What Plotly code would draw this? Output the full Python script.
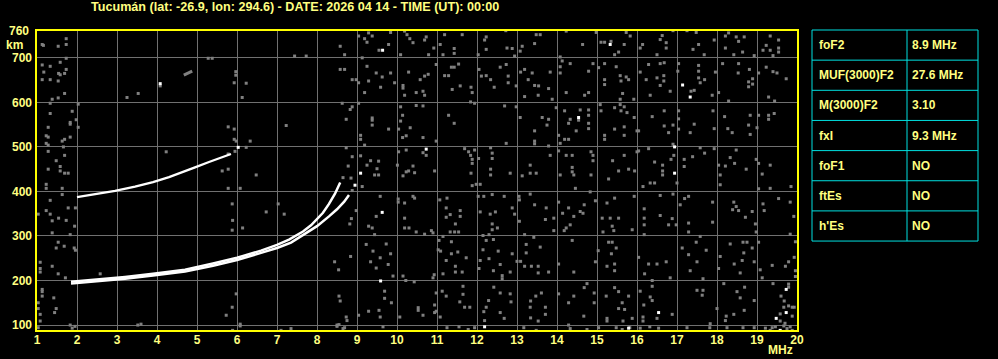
import plotly.graph_objects as go

# ---------------- data ----------------
title_text = "Tucumán (lat: -26.9, lon: 294.6) - DATE: 2026 04 14 - TIME (UT): 00:00"
x_ticks = list(range(1, 21))
y_ticks = [100, 200, 300, 400, 500, 600, 700]

# F2 trace, ordinary branch (MHz, km)
o_freq = [1.85, 2.4, 3.2, 3.9, 4.7, 5.4, 6.0, 6.6, 7.0, 7.3, 7.65, 7.85, 8.0, 8.15, 8.3, 8.45, 8.58]
o_height = [197, 201, 208, 215, 224, 238, 251, 267, 280, 292, 310, 324, 337, 352, 372, 395, 420]
# F2 trace, extraordinary branch
x_freq = [1.85, 2.4, 3.2, 3.9, 4.7, 5.4, 6.0, 6.6, 7.0, 7.35, 7.65, 8.0, 8.3, 8.5, 8.68, 8.8]
x_height = [193, 197, 204, 211, 220, 233, 246, 262, 273, 285, 302, 322, 344, 360, 377, 392]
# second-hop F2 trace
hop2_freq = [2.0, 2.45, 2.95, 3.45, 3.9, 4.3, 4.65, 4.95, 5.3, 5.6, 5.85]
hop2_height = [387, 393, 401, 411, 421, 432, 443, 454, 466, 475, 484]
# short faint echo
dash_freq = [4.67, 4.88]
dash_height = [661, 670]

noise_gray = [
    (1.13, 730), (1.16, 728), (1.53, 726), (1.73, 743), (1.73, 730), (1.73, 699), (1.13, 684), (1.33, 681),
    (1.17, 668), (1.58, 690), (1.54, 665), (1.58, 662), (1.69, 665), (1.73, 674), (1.13, 651), (1.33, 651),
    (1.53, 648), (1.69, 620), (1.53, 610), (1.38, 607), (1.33, 598), (2.03, 596), (1.33, 575), (1.88, 580),
    (1.98, 561), (1.83, 555), (1.83, 551), (1.28, 544), (2.03, 544), (1.23, 525), (1.28, 522), (1.83, 522),
    (1.69, 517), (1.63, 513), (1.23, 508), (1.28, 504), (1.66, 500), (1.28, 490), (1.48, 469), (1.69, 481),
    (1.58, 456), (1.28, 450), (1.58, 446), (1.69, 441), (1.78, 441), (3.53, 620), (3.25, 611), (4.23, 489),
    (5.28, 699), (5.38, 699), (5.97, 669), (5.97, 661), (5.93, 644), (6.23, 643), (6.13, 611), (5.78, 545),
    (5.93, 540), (5.93, 517), (5.98, 513), (6.33, 513), (6.23, 499), (5.78, 484), (5.78, 450), (5.63, 446),
    (6.48, 437), (7.23, 548), (4.08, 637), (8.88, 402), (8.85, 430), (5.95, 490),
    (1.23, 416), (1.23, 407), (1.63, 407), (1.63, 393), (1.33, 380), (1.23, 357), (1.33, 349), (1.78, 363),
    (1.03, 349), (1.38, 334), (1.54, 340), (1.73, 335), (1.94, 322), (1.38, 307), (1.83, 303), (1.96, 363),
    (1.53, 286), (1.68, 277), (1.48, 273), (1.93, 273), (1.96, 268), (1.08, 241), (1.08, 227), (1.08, 219),
    (1.38, 232), (1.53, 215), (1.71, 206), (2.58, 215), (1.13, 180), (1.13, 175), (1.13, 165), (1.03, 150),
    (1.03, 137), (1.42, 161), (1.48, 137), (1.44, 128), (1.08, 124), (1.08, 109), (1.03, 94), (1.83, 100),
    (1.88, 93), (1.95, 97), (3.52, 100), (3.6, 102), (5.78, 407), (6.08, 407), (5.88, 372), (5.89, 335),
    (5.88, 313), (6.14, 318), (6.73, 354), (7.03, 372), (7.18, 349), (5.98, 170), (5.88, 140), (5.73, 122),
    (6.08, 102), (6.08, 98), (5.89, 88), (7.1, 88), (7.35, 92), (8.5, 100), (8.5, 97), (8.75, 110), (8.65, 92),
    (7.44, 704), (7.73, 704), (8.58, 726), (8.69, 707), (9.04, 749), (9.19, 743), (9.25, 735), (9.29, 756),
    (9.38, 749), (9.55, 717), (9.79, 730), (9.84, 757), (9.13, 700), (10.19, 760), (10.25, 752), (10.32, 743),
    (10.4, 734), (10.73, 747), (10.69, 740), (10.92, 722), (10.79, 707), (10.09, 707), (11.08, 730), (11.19, 752),
    (11.43, 721), (11.43, 710), (11.15, 707), (11.63, 752), (12.03, 707), (12.23, 747), (12.19, 740), (12.23, 719),
    (12.72, 761), (12.75, 722), (12.88, 721), (12.94, 704), (13.08, 715), (13.13, 726), (13.44, 732), (13.48, 752),
    (13.58, 752),
    (8.58, 674), (8.69, 674), (8.88, 651), (8.98, 651), (9.04, 644), (9.19, 622), (9.25, 681), (9.29, 648),
    (9.48, 666), (9.63, 657), (9.59, 634), (9.84, 666), (9.94, 644), (10.15, 638), (10.15, 632), (10.29, 668),
    (10.19, 616), (10.48, 622), (10.58, 651), (10.65, 625), (10.69, 659), (10.78, 663), (10.69, 616), (10.98, 685),
    (11.19, 660), (11.29, 660), (11.36, 679), (11.43, 679), (11.54, 686), (11.38, 629), (11.58, 637), (11.85, 634),
    (11.88, 622), (12.05, 674), (12.11, 659), (12.23, 660), (12.34, 651), (12.43, 634), (12.58, 679), (12.73, 685),
    (12.78, 659), (12.78, 644), (12.98, 637), (13.09, 668), (13.19, 674), (13.28, 651), (13.38, 666), (13.44, 638),
    (13.54, 637), (13.19, 613), (13.53, 616),
    (8.63, 598), (8.83, 584), (8.88, 590), (8.73, 562), (9.04, 598), (9.38, 565), (9.38, 560), (9.38, 549),
    (9.79, 540), (9.09, 526), (9.09, 517), (9.19, 504), (10.09, 590), (10.14, 571), (10.09, 558), (10.23, 525),
    (10.33, 543), (10.14, 521), (10.04, 540), (10.48, 593), (10.65, 592), (10.65, 521), (10.98, 513), (11.29, 571),
    (11.43, 553), (11.84, 601), (11.94, 598), (12.69, 592), (12.98, 590), (13.08, 566), (13.44, 536), (13.44, 513),
    (13.44, 507), (13.63, 566), (12.73, 508),
    (8.73, 498), (8.88, 478), (8.78, 457), (8.65, 431), (9.09, 480), (9.34, 469), (9.25, 459), (9.5, 451),
    (9.54, 468), (9.44, 437), (9.54, 437), (10.04, 489), (10.01, 459), (10.23, 493), (10.15, 435), (10.23, 444),
    (10.29, 446), (10.4, 457), (10.44, 442), (10.65, 487), (10.73, 481), (10.94, 446), (11.69, 496), (11.79, 489),
    (11.84, 481), (11.94, 493), (11.88, 472), (11.88, 463), (11.85, 441), (12.04, 474), (12.34, 498), (12.38, 486),
    (12.38, 474), (12.34, 450), (12.34, 437), (12.83, 441), (13.13, 435), (13.33, 459), (13.33, 441), (13.48, 441),
    (14.23, 760), (14.64, 730), (14.98, 757), (15.1, 735), (15.19, 735), (15.35, 737), (15.68, 730), (15.73, 757),
    (15.83, 749), (15.54, 713), (15.44, 707), (16.08, 722), (16.14, 730), (16.58, 741), (16.63, 750), (16.73, 734),
    (16.73, 722), (16.5, 707), (16.9, 761), (17.25, 761), (17.4, 719), (17.54, 730), (17.48, 757), (17.68, 707),
    (17.93, 740), (18.21, 749), (18.29, 756), (18.48, 747), (18.54, 737), (18.68, 747), (18.21, 722), (18.42, 707),
    (18.64, 713), (18.93, 705), (19.15, 717), (19.23, 728), (19.33, 749), (19.54, 740), (19.54, 722), (19.33, 717),
    (19.4, 705), (19.54, 713),
    (13.83, 668), (14.08, 702), (14.13, 693), (14.08, 680), (14.33, 687), (14.08, 666), (13.79, 631), (13.88, 607),
    (14.23, 622), (14.69, 616), (14.79, 670), (14.79, 622), (14.9, 687), (15.04, 678), (15.19, 687), (15.19, 651),
    (15.19, 640), (15.48, 680), (15.58, 660), (15.6, 648), (15.73, 657), (15.79, 651), (15.64, 620), (15.58, 607),
    (15.92, 607), (16.08, 668), (16.29, 685), (16.23, 651), (16.5, 655), (16.58, 687), (16.68, 689), (16.67, 660),
    (16.67, 648), (16.58, 638), (16.83, 625), (16.33, 616), (17.04, 687), (17.02, 670), (17.35, 625), (17.43, 627),
    (17.54, 683), (17.54, 670), (17.58, 644), (17.69, 651), (17.54, 655), (17.88, 616), (17.96, 668), (18.04, 622),
    (18.14, 687), (18.54, 687), (18.53, 666), (18.81, 674), (18.89, 653), (18.79, 646), (18.79, 635), (18.89, 641),
    (18.29, 603), (19.04, 666), (19.23, 679), (19.4, 669), (19.5, 666), (19.73, 653), (19.29, 612), (19.44, 603),
    (13.98, 588), (13.79, 562), (13.75, 549), (13.79, 502), (14.19, 581), (14.33, 562), (14.29, 553), (14.04, 526),
    (14.19, 517), (14.29, 517), (14.08, 508), (14.54, 560), (14.58, 583), (14.79, 583), (14.79, 571), (14.79, 553),
    (14.79, 541), (14.48, 536), (15.08, 595), (15.1, 581), (15.44, 588), (15.58, 595), (15.6, 581), (15.68, 590),
    (15.75, 577), (15.44, 540), (15.19, 526), (15.19, 517), (15.68, 526), (15.68, 545), (15.93, 566), (16.0, 536),
    (16.04, 536), (16.38, 568), (16.68, 581), (16.68, 547), (16.79, 532), (16.9, 549), (16.9, 506), (17.04, 581),
    (17.04, 563), (17.04, 540), (17.43, 551), (17.33, 532), (17.9, 581), (17.93, 541), (18.19, 568), (18.27, 541),
    (18.38, 532), (18.83, 571), (18.79, 549), (18.83, 528), (19.0, 543), (19.04, 571), (19.29, 571), (19.29, 562),
    (19.43, 575),
    (13.83, 481), (14.04, 491), (14.23, 481), (14.38, 481), (14.08, 437), (14.38, 454), (14.38, 444), (14.42, 437),
    (14.85, 489), (14.9, 481), (14.9, 469), (14.85, 437), (15.29, 428), (15.39, 469), (15.68, 481), (15.54, 446),
    (15.79, 450), (15.94, 446), (16.0, 489), (16.04, 491), (16.29, 496), (16.44, 466), (16.64, 459), (16.64, 446),
    (16.64, 437), (16.85, 472), (16.92, 481), (17.18, 472), (17.18, 456), (17.39, 478), (17.58, 498), (17.69, 486),
    (17.93, 496), (18.04, 459), (18.08, 437), (18.21, 457), (18.33, 476), (18.44, 463), (18.48, 493), (18.73, 450),
    (18.98, 472), (19.04, 463), (19.13, 439), (19.33, 459),
    (9.13, 411), (9.58, 389), (9.48, 344), (9.29, 322), (9.38, 318), (9.44, 303), (8.86, 339), (8.82, 327),
    (8.98, 357), (9.23, 281), (9.4, 266), (9.73, 282), (9.84, 260), (9.78, 236), (9.58, 251), (9.34, 242),
    (8.44, 242), (8.54, 224), (8.84, 254), (9.48, 228), (9.9, 210), (9.69, 176), (9.69, 160), (9.86, 150),
    (9.55, 133), (9.58, 118), (9.29, 131), (9.04, 122), (8.73, 118), (8.55, 165), (8.58, 154), (8.55, 101),
    (8.69, 94), (9.65, 96), (10.03, 383), (10.03, 376), (10.19, 374), (10.4, 389), (10.44, 385), (10.19, 340),
    (10.19, 318), (10.3, 318), (10.48, 309), (10.69, 304), (10.86, 312), (10.9, 307), (10.15, 210), (10.22, 200),
    (10.43, 197), (10.9, 206), (10.93, 213), (10.07, 118), (10.53, 139), (10.53, 133), (10.65, 122), (10.94, 145),
    (10.94, 128), (10.98, 172), (11.07, 381), (11.25, 385), (11.23, 342), (11.23, 363), (11.33, 348), (11.46, 327),
    (11.58, 357), (11.58, 344), (11.33, 309), (11.44, 309), (11.54, 309), (11.05, 290), (11.15, 299), (11.36, 287),
    (11.03, 269), (11.09, 266), (11.36, 260), (11.52, 264), (11.73, 251), (11.23, 245), (11.46, 232), (11.63, 219),
    (11.46, 219), (11.15, 215), (11.13, 176), (11.23, 165), (11.65, 187), (11.65, 169), (11.57, 152), (11.69, 140),
    (11.82, 140), (10.98, 131), (11.08, 118), (11.25, 94), (11.55, 96), (11.78, 90), (11.94, 94), (11.88, 413),
    (11.98, 416), (12.08, 416), (12.03, 389), (12.17, 389), (12.38, 393), (12.68, 389), (12.08, 354), (12.33, 349),
    (12.46, 354), (12.38, 327), (12.51, 318), (12.38, 314), (12.3, 303), (12.15, 301), (12.23, 290), (12.41, 292),
    (12.15, 269), (12.3, 249), (12.53, 266), (12.58, 236), (12.41, 222), (12.05, 227), (12.08, 245), (12.63, 211),
    (12.63, 204), (12.42, 185), (12.58, 172), (12.83, 170), (12.85, 152), (12.29, 155), (12.23, 140), (12.17, 130),
    (12.58, 128), (12.68, 115), (12.19, 110), (12.94, 349), (12.88, 363), (13.06, 381), (13.06, 333), (13.05, 389),
    (13.19, 303), (13.23, 281), (13.23, 262), (13.09, 243), (13.0, 243), (12.88, 260), (12.83, 219), (13.19, 232),
    (13.36, 232), (13.53, 232), (13.42, 297), (13.33, 394), (13.44, 370), (13.58, 275), (13.53, 217), (13.61, 172),
    (13.47, 165), (13.33, 140), (13.34, 116), (13.53, 109), (13.34, 154), (13.17, 94), (13.48, 88),
    (13.73, 363), (13.71, 337), (13.92, 340), (13.92, 312), (14.04, 376), (14.14, 351), (14.29, 363), (14.42, 344),
    (14.58, 355), (14.68, 370), (14.46, 407), (14.65, 351), (14.33, 325), (14.23, 318), (14.18, 312), (14.83, 399),
    (14.96, 379), (15.25, 374), (15.44, 385), (15.93, 389), (15.13, 340), (15.33, 340), (15.54, 340), (15.38, 322),
    (15.42, 312), (15.15, 309), (16.15, 411), (16.33, 419), (16.44, 419), (16.58, 391), (16.9, 394), (17.0, 419),
    (16.18, 361), (16.18, 340), (16.18, 325), (16.58, 346), (16.79, 325), (16.88, 339), (16.98, 325), (16.18, 303),
    (15.88, 314), (17.08, 370), (17.19, 384), (17.29, 389), (17.29, 329), (17.29, 309), (17.58, 299), (17.89, 376),
    (17.89, 331), (18.08, 415), (18.42, 376), (18.48, 366), (18.39, 359), (18.54, 357), (18.71, 342), (18.88, 355),
    (18.96, 327), (18.98, 309), (19.04, 406), (19.33, 407), (19.85, 411), (19.54, 384), (19.83, 376), (19.15, 372),
    (19.18, 357), (19.92, 344), (19.83, 304), (19.96, 287),
    (13.79, 219), (14.04, 237), (14.38, 290), (14.42, 219), (14.96, 242), (15.03, 267), (15.29, 286), (15.38, 286),
    (15.36, 260), (15.48, 273), (15.44, 237), (15.44, 222), (15.25, 232), (16.04, 252), (16.19, 215), (16.29, 237),
    (16.5, 237), (16.73, 242), (16.83, 206), (16.38, 200), (17.13, 273), (17.29, 258), (17.5, 242), (17.33, 222),
    (17.48, 286), (17.73, 268), (17.65, 204), (18.04, 227), (18.08, 254), (18.33, 282), (18.65, 286), (18.75, 286),
    (18.67, 262), (18.63, 245), (18.58, 217), (18.43, 237), (18.88, 273), (18.93, 242), (19.04, 286), (19.08, 224),
    (19.38, 234), (19.71, 232), (19.79, 242), (19.96, 222), (19.96, 209), (19.13, 206), (19.93, 252),
    (13.71, 140), (13.71, 124), (14.04, 170), (14.29, 150), (14.42, 165), (14.68, 184), (14.75, 193), (14.93, 172),
    (14.93, 150), (14.67, 120), (14.29, 100), (14.33, 92), (14.75, 90), (15.04, 94), (15.44, 184), (15.54, 175),
    (15.23, 165), (15.63, 150), (15.79, 165), (15.69, 135), (15.54, 137), (15.25, 115), (15.25, 109), (15.65, 109),
    (15.88, 115), (15.82, 94), (15.48, 94), (15.63, 90), (16.08, 93), (16.08, 176), (16.38, 187), (16.33, 163),
    (16.38, 155), (16.17, 145), (16.5, 115), (16.15, 118), (16.15, 109), (16.32, 96), (16.54, 93), (16.88, 124),
    (17.25, 94), (17.5, 178), (17.65, 178), (17.63, 167), (17.83, 103), (17.82, 94), (18.0, 137), (18.17, 193),
    (18.5, 175), (18.58, 161), (18.69, 185), (18.68, 133), (18.23, 120), (18.21, 110), (18.42, 124), (18.25, 94),
    (18.65, 94), (18.93, 155), (18.93, 94), (19.4, 193), (19.79, 192), (19.79, 185), (19.6, 165), (19.68, 154),
    (19.79, 143), (19.67, 140), (19.58, 125), (19.88, 140), (19.88, 120), (19.93, 140), (19.58, 109), (19.67, 98),
    (19.83, 96), (19.46, 96), (19.38, 94), (19.33, 88), (19.21, 93), (19.88, 88), (19.75, 92), (19.7, 104),
]
noise_white = [
    (4.08, 642), (6.03, 499), (9.64, 717), (9.09, 441), (10.73, 495), (15.33, 730), (17.14, 639), (17.33, 612),
    (14.54, 566), (16.94, 500), (16.94, 441), (9.63, 353), (9.59, 199), (12.19, 96), (16.54, 128), (15.79, 93),
    (19.73, 180), (19.73, 128), (19.48, 115), (19.58, 88), (8.95, 414),
]

table_params = ["foF2", "MUF(3000)F2", "M(3000)F2", "fxI", "foF1", "ftEs", "h'Es"]
table_values = ["8.9 MHz", "27.6 MHz", "3.10", "9.3 MHz", "NO", "NO", "NO"]

# ---------------- style / layout ----------------
W, H = 998, 359
PL, PR, PT, PB = 36, 798, 30, 333  # plot area in pixels
TXT = "#ffff80"
FRAME = "#ffff00"
GRID = "#707070"
DOT = "#808080"
CYAN = "#00e0e0"
FONT = dict(family="Liberation Sans, Arial, sans-serif", size=12, color=TXT, weight="bold")
TITLE_FONT = dict(FONT, size=12.6)


def px_x(px):
    return (px - PL) / (PR - PL)


def px_y(py):
    return (PB - py) / (PB - PT)


fig = go.Figure()

fig.add_trace(go.Scatter(
    x=[p[0] for p in noise_gray], y=[p[1] for p in noise_gray], mode="markers",
    marker=dict(symbol="square", size=3, color=DOT, line=dict(width=0)), hoverinfo="skip"))
fig.add_trace(go.Scatter(
    x=dash_freq, y=dash_height, mode="lines", line=dict(color=DOT, width=3), hoverinfo="skip"))
for fx, hy, wd in [(hop2_freq, hop2_height, 2.3), (x_freq, x_height, 2.5), (o_freq, o_height, 2.5)]:
    fig.add_trace(go.Scatter(x=fx, y=hy, mode="lines",
                             line=dict(color="#ffffff", width=wd, shape="linear"),
                             hoverinfo="skip"))
fig.add_trace(go.Scatter(
    x=[p[0] for p in noise_white], y=[p[1] for p in noise_white], mode="markers",
    marker=dict(symbol="square", size=3, color="#ffffff", line=dict(width=0)), hoverinfo="skip"))

x0 = 1 - (37 - PL) / 40.0
x1 = x0 + (PR - PL) / 40.0
y_scale = 0.4483
y0 = 100 - (PB - 327) / y_scale
y1 = y0 + (PB - PT) / y_scale

fig.update_xaxes(range=[x0, x1], tickvals=x_ticks, ticktext=[str(v) for v in x_ticks],
                 showgrid=True, gridcolor=GRID, gridwidth=1, zeroline=False, showline=False,
                 ticks="", tickfont=FONT, fixedrange=True)
fig.update_yaxes(range=[y0, y1], tickvals=y_ticks, ticktext=[str(v) for v in y_ticks],
                 showgrid=True, gridcolor=GRID, gridwidth=1, zeroline=False, showline=False,
                 ticks="", tickfont=FONT, ticklabelstandoff=3, fixedrange=True)

shapes = [dict(type="rect", xref="paper", yref="paper", x0=0, x1=1, y0=0, y1=1,
               line=dict(color=FRAME, width=2), layer="above")]
# table
TL, TD, TR, TT = 812, 907, 978, 30
row_h = 30.35
nrows = len(table_params)
TB = TT + row_h * nrows
shapes.append(dict(type="rect", xref="paper", yref="paper", x0=px_x(TL), x1=px_x(TR),
                   y0=px_y(TB), y1=px_y(TT), line=dict(color=CYAN, width=1)))
shapes.append(dict(type="line", xref="paper", yref="paper", x0=px_x(TD), x1=px_x(TD),
                   y0=px_y(TB), y1=px_y(TT), line=dict(color=CYAN, width=1)))
annotations = []
for i in range(nrows):
    if i > 0:
        yy = TT + row_h * i
        shapes.append(dict(type="line", xref="paper", yref="paper", x0=px_x(TL), x1=px_x(TR),
                           y0=px_y(yy), y1=px_y(yy), line=dict(color=CYAN, width=1)))
    yc = TT + row_h * (i + 0.5)
    annotations.append(dict(x=px_x(TL + 5), y=px_y(yc), xref="paper", yref="paper", text=table_params[i],
                            showarrow=False, xanchor="left", yanchor="middle", font=FONT))
    annotations.append(dict(x=px_x(TD + 3), y=px_y(yc), xref="paper", yref="paper", text=table_values[i],
                            showarrow=False, xanchor="left", yanchor="middle", font=FONT))

annotations.append(dict(x=px_x(295), y=px_y(7), xref="paper", yref="paper", text=title_text,
                        showarrow=False, xanchor="center", yanchor="middle", font=TITLE_FONT))
annotations.append(dict(x=px_x(31), y=px_y(31), xref="paper", yref="paper", text="760",
                        showarrow=False, xanchor="right", yanchor="middle", font=FONT))
annotations.append(dict(x=px_x(14), y=px_y(45), xref="paper", yref="paper", text="km",
                        showarrow=False, xanchor="center", yanchor="middle", font=FONT))
annotations.append(dict(x=px_x(780), y=px_y(352), xref="paper", yref="paper", text="MHz",
                        showarrow=False, xanchor="center", yanchor="middle", font=FONT))

fig.update_layout(width=W, height=H, margin=dict(l=PL, r=W - PR, t=PT, b=H - PB, pad=0),
                  paper_bgcolor="#000000", plot_bgcolor="#000000", showlegend=False,
                  shapes=shapes, annotations=annotations)

fig.write_html("out.html", config={"displayModeBar": False})
